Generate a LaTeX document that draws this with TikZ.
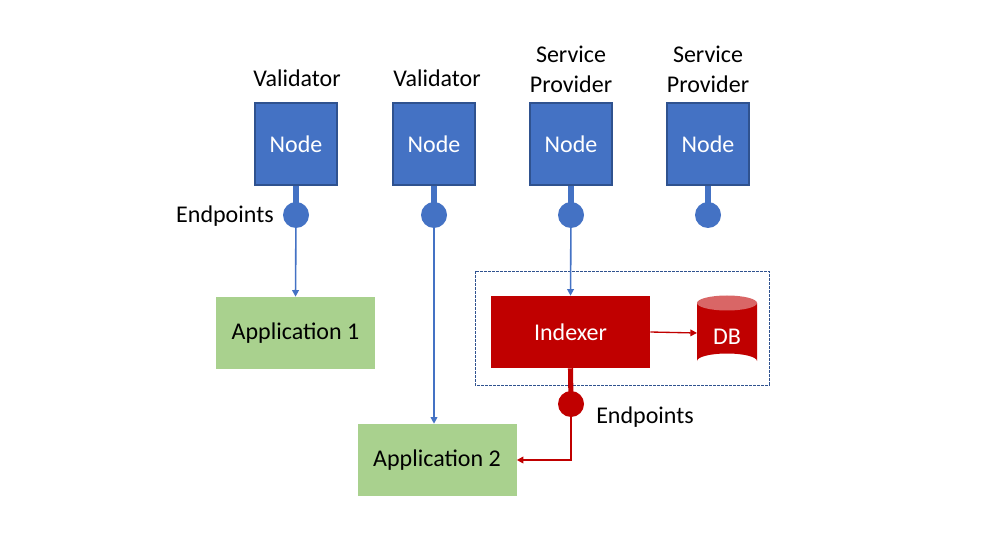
\documentclass[tikz,border=0pt]{standalone}
\usepackage{fontspec}
\setmainfont{Carlito}
\usetikzlibrary{arrows.meta}
\definecolor{nblue}{HTML}{4472C4}
\definecolor{nborder}{HTML}{2F528F}
\definecolor{ired}{HTML}{C00000}
\definecolor{dbtop}{HTML}{D96666}
\definecolor{agreen}{HTML}{A9D18E}
\tikzset{
  nodebox/.style={draw=nborder, line width=0.8pt, fill=nblue, minimum width=82*0.75pt, minimum height=82*0.75pt, inner sep=0pt, text=white, font=\fontsize{18}{20}\selectfont},
  appbox/.style={fill=agreen, minimum width=159*0.75pt, minimum height=72*0.75pt, inner sep=0pt, font=\fontsize{18}{20}\selectfont},
  idxbox/.style={fill=ired, minimum width=159*0.75pt, minimum height=72*0.75pt, inner sep=0pt, text=white, font=\fontsize{18}{20}\selectfont},
  lbl/.style={font=\fontsize{18}{22.5}\selectfont, align=center, inner sep=0pt},
  epdot/.style={circle, fill=nblue, minimum size=26*0.75pt, inner sep=0pt},
  rdot/.style={circle, fill=ired, minimum size=26*0.75pt, inner sep=0pt},
  stem/.style={line width=3.8pt},
  bconn/.style={draw=nblue, line width=1.2pt, -{Triangle[length=5pt,width=5pt]}},
  rconn/.style={draw=ired, line width=1.5pt, -{Triangle[length=5pt,width=5pt]}},
}
\begin{document}
\begin{tikzpicture}[x=0.75pt,y=-0.75pt]
\useasboundingbox (0,0) rectangle (991,541);
% node boxes
\node[nodebox] (n1) at (296,144) {Node};
\node[nodebox] (n2) at (434,144) {Node};
\node[nodebox] (n3) at (571,144) {Node};
\node[nodebox] (n4) at (708,144) {Node};
% labels
\node[lbl] (l1) at (297,78) {Validator};
\node[lbl] (l2) at (437,78) {Validator};
\node[lbl] (l3) at (571,69) {Service\\Provider};
\node[lbl] (l4) at (708,69) {Service\\Provider};
% endpoints
\node[epdot] (e1) at (296,215) {};
\node[epdot] (e2) at (434,215) {};
\node[epdot] (e3) at (571,215) {};
\node[epdot] (e4) at (708,215) {};
\foreach \i in {1,2,3,4} \draw[nblue, stem] (n\i.south) -- (e\i.center);
\node[lbl, anchor=east] (ep1) at (274,216) {Endpoints};
% applications
\node[appbox] (a1) at (295.5,333) {Application 1};
\node[appbox] (a2) at (437,460) {Application 2};
% dashed group
\draw[nborder, line width=0.6pt, dash pattern=on 2pt off 1pt] (475,271) rectangle (769,385);
% indexer
\node[idxbox] (ix) at (570.5,332) {Indexer};
% DB cylinder
\coordinate (dbl) at (697,333);
\fill[ired] (697,303) -- (697,361) arc[start angle=180, end angle=360, x radius=30, y radius=7.5] -- (757,303) -- cycle;
\fill[dbtop] (727,303) ellipse[x radius=30, y radius=7.5];
\node[text=white, font=\fontsize{18}{20}\selectfont] (db) at (727,337) {DB};
% connectors
\draw[bconn] (e1.center) -- (a1.north);
\draw[bconn] (e2.center) -- (e2.center |- a2.north);
\draw[bconn] (e3.center) -- (ix.north);
\draw[ired, line width=1pt, -{Triangle[length=5pt,width=5pt]}] (ix.east) -- (dbl);
% red endpoint
\node[rdot] (re) at (571,404) {};
\draw[ired, stem] (ix.south) -- (re.center);
\node[lbl, anchor=west] (ep2) at (596,417) {Endpoints};
\draw[rconn] (re.center) |- (a2.east);
\end{tikzpicture}
\end{document}
